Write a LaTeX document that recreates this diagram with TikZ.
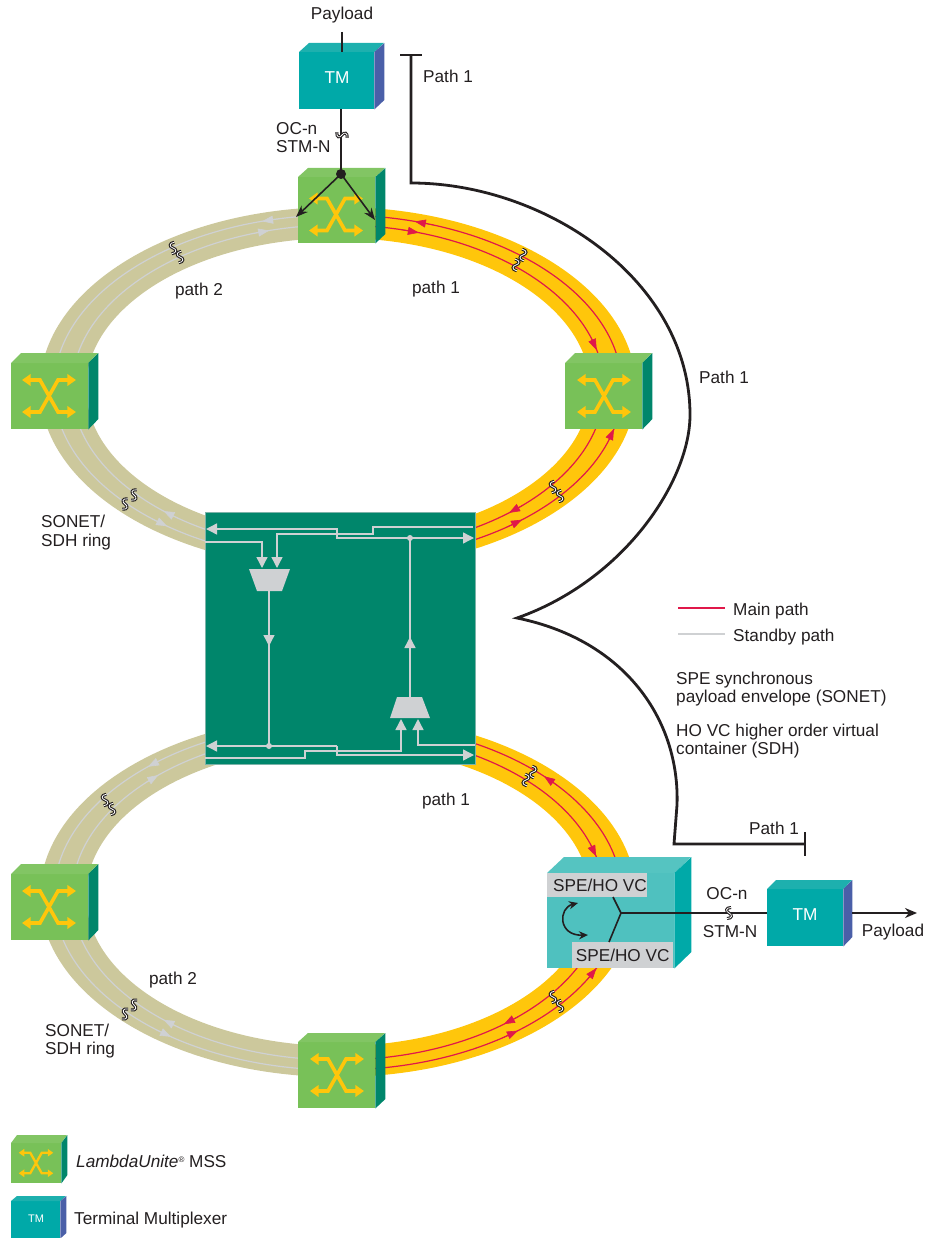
\documentclass[tikz,border=0pt]{standalone}
\usepackage{fontspec}
\setmainfont{Liberation Sans}
\usetikzlibrary{arrows.meta}
\definecolor{bandtan}{HTML}{CCC89C}
\definecolor{bandgold}{HTML}{FFC60B}
\definecolor{mainred}{HTML}{E0184A}
\definecolor{standby}{HTML}{CFD1D3}
\definecolor{inktext}{HTML}{231F20}
\definecolor{centergreen}{HTML}{00866B}
\definecolor{swfront}{HTML}{78C158}
\definecolor{swtop}{HTML}{82C564}
\definecolor{swside}{HTML}{00866B}
\definecolor{tmfront}{HTML}{00A9A8}
\definecolor{tmtop}{HTML}{1DB0AE}
\definecolor{tmside}{HTML}{4A5FA8}
\definecolor{adfront}{HTML}{4FC1BF}
\definecolor{adtop}{HTML}{55C4C1}
\definecolor{adside}{HTML}{00A9A8}
\tikzset{
  lab/.style={font=\fontsize{17.2}{20}\selectfont,text=inktext,inner sep=0pt,yshift=-1.5pt},
  flat/.style={font=\fontsize{17.2}{20}\selectfont,text=inktext,inner sep=0pt},
  lablist/.style={lab,anchor=west,align=left},
  mainline/.style={draw=mainred,line width=1.2pt},
  spareline/.style={draw=standby,line width=1.2pt},
  greyrun/.style={draw=standby,line width=1.4pt},
  greytip/.style={-{Triangle[length=11pt,width=11pt]}},
  blackrun/.style={draw=inktext,line width=1.6pt},
  pathline/.style={draw=inktext,line width=2.8pt},
  squigline/.style={draw=inktext,double=white,line width=1.1pt,double distance=0.8pt},
}
% name, x, y, w, h, depth x, depth y, colour prefix
\newcommand{\cube}[8]{
  \node[fill=#8front,minimum width=#4pt,minimum height=#5pt,inner sep=0pt,anchor=north west] (#1) at (#2,#3) {};
  \fill[#8top] (#1.north west) -- ++(#6pt,#7pt) -- ++(#4pt,0pt) -- (#1.north east) -- cycle;
  \fill[#8side] (#1.north east) -- ++(#6pt,#7pt) -- ++(0pt,-#5pt) -- (#1.south east) -- cycle;
}
\newcommand{\crossarrows}[3]{
  \begin{scope}[shift={(#1,#2)},scale=#3]
    \draw[bandgold,line width={3.6pt*#3},{Triangle[length=0pt 2.4,width=0pt 3.2]}-{Triangle[length=0pt 2.4,width=0pt 3.2]}] (-27,-16) -- (-9,-16) -- (9,16) -- (27,16);
    \draw[bandgold,line width={3.6pt*#3},{Triangle[length=0pt 2.4,width=0pt 3.2]}-{Triangle[length=0pt 2.4,width=0pt 3.2]}] (-27,16) -- (-9,16) -- (9,-16) -- (27,-16);
  \end{scope}
}
% half ring: centre y, clip x from, clip x to, colour
\newcommand{\ringhalf}[4]{
  \begin{scope}
    \clip (#2,0) rectangle (#3,1238);
    \fill[#4,even odd rule] (338,#1) ellipse [x radius=298,y radius=181] (338,#1) ellipse [x radius=252,y radius=150];
  \end{scope}
}
% centre y, rx, ry, angle, direction, line colour
\newcommand{\ringtip}[6]{
  \draw[draw=#6,line width=0.6pt,-{Triangle[length=11pt,width=8pt]},fill=#6] ({338+#2*cos(#4-#5*4)},{#1+#3*sin(#4-#5*4)}) -- ({338+#2*cos(#4)},{#1+#3*sin(#4)});
}
% x, y, rotation, mirror
\newcommand{\squig}[4]{
  \begin{scope}[shift={(#1,#2)},rotate=#3,xscale=#4]
    \draw[squigline] (2pt,5.5pt) .. controls (-3.5pt,5.5pt) and (-3.5pt,1.5pt) .. (0pt,0pt) .. controls (3.5pt,-1.5pt) and (3.5pt,-5.5pt) .. (-2pt,-5.5pt);
  \end{scope}
}
\begin{document}
\begin{tikzpicture}[x=1pt,y=-1pt]
\useasboundingbox (0,0) rectangle (925,1238);
\ringhalf{388}{0}{338}{bandtan}
\ringhalf{388}{338}{925}{bandgold}
\ringhalf{896}{0}{338}{bandtan}
\ringhalf{896}{338}{925}{bandgold}
\begin{scope}
  \clip (338,0) rectangle (925,1238);
  \draw[mainline] (338,388) ellipse [x radius=284,y radius=173];
  \draw[mainline] (338,388) ellipse [x radius=266,y radius=163];
  \draw[mainline] (338,896) ellipse [x radius=284,y radius=174];
  \draw[mainline] (338,896) ellipse [x radius=266,y radius=164];
\end{scope}
\begin{scope}
  \clip (0,0) rectangle (338,1238);
  \draw[spareline] (338,388) ellipse [x radius=284,y radius=173];
  \draw[spareline] (338,388) ellipse [x radius=266,y radius=163];
  \draw[spareline] (338,896) ellipse [x radius=284,y radius=174];
  \draw[spareline] (338,896) ellipse [x radius=266,y radius=164];
\end{scope}
\ringtip{388}{284}{173}{-74.3}{-1}{mainred}
\ringtip{388}{266}{163}{-72.3}{1}{mainred}
\ringtip{388}{266}{163}{-13.5}{1}{mainred}
\ringtip{388}{284}{173}{13.7}{-1}{mainred}
\ringtip{388}{266}{163}{50}{1}{mainred}
\ringtip{388}{284}{173}{49.6}{-1}{mainred}
\ringtip{896}{284}{174}{-43.5}{-1}{mainred}
\ringtip{896}{266}{164}{-14}{1}{mainred}
\ringtip{896}{266}{164}{51.4}{1}{mainred}
\ringtip{896}{284}{174}{50.7}{-1}{mainred}
\ringtip{896}{284}{174}{24.5}{-1}{mainred}
\ringtip{388}{284}{173}{-105.5}{-1}{standby}
\ringtip{388}{266}{163}{-105}{1}{standby}
\ringtip{388}{266}{163}{131}{1}{standby}
\ringtip{388}{284}{173}{127}{-1}{standby}
\ringtip{896}{284}{174}{-132}{-1}{standby}
\ringtip{896}{266}{164}{-132.5}{1}{standby}
\ringtip{896}{266}{164}{131}{1}{standby}
\ringtip{896}{284}{174}{126}{-1}{standby}
\squig{173}{248}{8}{1}
\squig{180}{257}{8}{1}
\squig{134}{495}{-8}{1}
\squig{125}{504}{-8}{1}
\squig{523}{255}{-12}{-1}
\squig{516}{265}{-12}{-1}
\squig{553}{487}{8}{1}
\squig{560}{496}{8}{1}
\squig{533}{772}{-12}{-1}
\squig{526}{780}{-12}{-1}
\squig{553}{997}{8}{1}
\squig{560}{1006}{8}{1}
\squig{105}{800}{8}{1}
\squig{112}{809}{8}{1}
\squig{134}{1005}{-12}{1}
\squig{125}{1014}{-12}{1}
% boxes
\cube{tmtop}{299}{52}{75}{57}{10}{9}{tm}
\cube{swtop}{298}{177}{77}{66}{10}{9}{sw}
\cube{swleft}{11}{363}{77}{66}{10}{10}{sw}
\cube{swright}{565}{363}{77}{66}{10}{10}{sw}
\cube{swlow}{11}{874}{77}{66}{10}{10}{sw}
\cube{swbase}{298}{1042}{77}{66}{10}{9}{sw}
\cube{adm}{547}{873}{127}{95}{17}{16}{ad}
\cube{tmright}{767}{889}{76}{57}{9}{9}{tm}
\cube{keysw}{11}{1143}{50}{40}{6}{8}{sw}
\cube{keytm}{11}{1201}{49}{37}{6}{5}{tm}
\crossarrows{336}{214.5}{1}
\crossarrows{49}{396}{1}
\crossarrows{604}{396}{1}
\crossarrows{49}{907}{1}
\crossarrows{337}{1075}{1}
\crossarrows{36}{1163}{0.64}
% centre
\node[fill=centergreen,draw=standby!60!centergreen,line width=0.5pt,minimum width=270pt,minimum height=252pt,inner sep=0pt,anchor=north west] (hub) at (205,512) {};
\fill[standby] (249,569) -- (290,569) -- (282,591) -- (257,591) -- cycle;
\fill[standby] (397,697) -- (422,697) -- (430,718) -- (390,718) -- cycle;
\coordinate (muxa) at (269,591);
\coordinate (muxb) at (410,697);
\coordinate (dota) at (410,538);
\coordinate (dotb) at (269,746);
\draw[greyrun,greytip] (473,527) -- (373,527) -- (373,534) -- (337,534) -- (337,529) -- (206,529);
\draw[greyrun,greytip] (205,542) -- (262,542) -- (262,568);
\draw[greyrun,greytip] (337,534) -- (277,534) -- (277,568);
\draw[greyrun,greytip] (337,529) -- (337,538) -- (474,538);
\draw[greyrun] (dota) -- (muxb);
\draw[greyrun,greytip] (muxb) -- (410,637);
\draw[greyrun] (muxa) -- (dotb);
\draw[greyrun,greytip] (muxa) -- (269,646);
\fill[standby] (dota) circle (3);
\fill[standby] (dotb) circle (3);
\draw[greyrun,greytip] (337,746) -- (206,746);
\draw[greyrun,greytip] (337,746) -- (337,751) -- (401,751) -- (401,719);
\draw[greyrun,greytip] (475,745) -- (418,745) -- (418,719);
\draw[greyrun,greytip] (205,758) -- (305,758) -- (305,751) -- (337,751) -- (337,755) -- (474,755);
% top feed
\coordinate (feedtop) at (342,32);
\coordinate (dropdot) at (341,174);
\coordinate (dropl) at (296,217);
\coordinate (dropr) at (375,220);
\draw[blackrun] (feedtop) -- (342,52);
\draw[blackrun] (tmtop.south -| dropdot) -- (dropdot);
\draw[blackrun,-{Stealth[length=12pt,width=9pt]}] (dropdot) -- (dropl);
\draw[blackrun,-{Stealth[length=12pt,width=9pt]}] (dropdot) -- (dropr);
\fill[inktext] (dropdot) circle (5);
\squig{342}{135}{80}{1}
% path 1 curve
\coordinate (barup) at (411,55);
\coordinate (bardown) at (805,844);
\draw[pathline] (400,55) -- (422,55);
\draw[pathline] (805,832) -- (805,856);
\draw[pathline] (barup) -- (411,183) .. controls (545,183) and (690,280) .. (690,415) .. controls (690,480) and (625,580) .. (517,618) .. controls (625,640) and (680,720) .. (677,805) -- (674,844) -- (bardown);
% add drop
\node[flat,fill=standby,minimum width=99pt,minimum height=24pt,anchor=north west] (spea) at (547,873) {\hspace*{6pt}SPE/HO VC};
\node[flat,fill=standby,minimum width=101pt,minimum height=26pt,anchor=north west] (speb) at (572,942) {SPE/HO VC};
\coordinate (join) at (621,913);
\coordinate (joina) at (613,897);
\coordinate (joinb) at (609,942);
\draw[blackrun] (joina) -- (join) -- (joinb);
\draw[blackrun] (join) -- (join -| tmright.west);
\squig{729}{913}{0}{1}
\coordinate (payend) at (917,913);
\draw[blackrun,-{Stealth[length=12pt,width=10pt]}] (join -| tmright.east) ++(9,0) -- (payend);
\coordinate (turna) at (578,903);
\coordinate (turnb) at (588,935);
\draw[blackrun,{Stealth[length=9pt,width=8pt]}-{Stealth[length=9pt,width=8pt]}] (turna) .. controls (558,908) and (558,936) .. (turnb);
% key
\coordinate (keya) at (678,608);
\coordinate (keyb) at (725,608);
\coordinate (keyc) at (678,634);
\coordinate (keyd) at (725,634);
\draw[mainline,line width=1.6pt] (keya) -- (keyb);
\draw[spareline,line width=1.6pt] (keyc) -- (keyd);
\node[lablist] (keymain) at (733,610) {Main path};
\node[lablist] (keyspare) at (733,636) {Standby path};
\node[lablist,font=\fontsize{17.2}{17.5}\selectfont] (notespe) at (676,687.5) {SPE synchronous\\payload envelope (SONET)};
\node[lablist,font=\fontsize{17.2}{17.5}\selectfont] (notevc) at (676,739.5) {HO VC higher order virtual\\container (SDH)};
% labels
\node[flat,text=white] (tmtoplab) at (337,78) {TM};
\node[flat,text=white] (tmrightlab) at (805,915) {TM};
\node[flat,text=white,font=\fontsize{11}{13}\selectfont] (keytmlab) at (36,1219) {TM};
\node[lab] (paytop) at (342,14) {Payload};
\node[lablist] (labp1) at (423,75) {Path 1};
\node[lablist,font=\fontsize{17.2}{18}\selectfont] (octop) at (276,136) {OC-n\\STM-N};
\node[lab] (ringa2) at (199,290) {path 2};
\node[lab] (ringa1) at (436,288) {path 1};
\node[lablist] (labp2) at (699,376) {Path 1};
\node[lablist,font=\fontsize{17.2}{19}\selectfont] (ringa) at (41,531) {SONET/\\SDH ring};
\node[lab] (ringb1) at (446,800) {path 1};
\node[lablist] (labp3) at (749,827) {Path 1};
\node[lab] (ocright) at (727,892) {OC-n};
\node[lab] (stmright) at (730,930) {STM-N};
\node[lab] (payright) at (893,931) {Payload};
\node[lab] (ringb2) at (173,979) {path 2};
\node[lablist,font=\fontsize{17.2}{18}\selectfont] (ringb) at (45,1040) {SONET/\\SDH ring};
\node[lablist] (keyswlab) at (76,1160) {\textit{LambdaUnite}\raisebox{5pt}{\fontsize{8}{8}\selectfont ®} MSS};
\node[lablist] (keytmtext) at (74,1219) {Terminal Multiplexer};
\end{tikzpicture}
\end{document}
